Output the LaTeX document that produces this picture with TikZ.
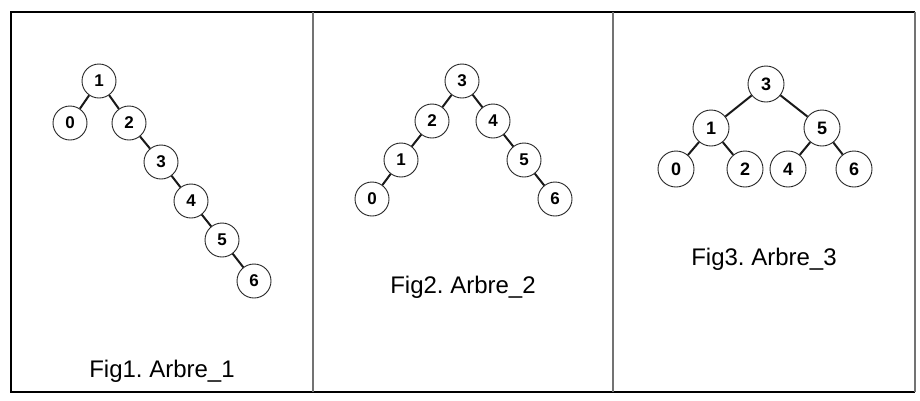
\documentclass[tikz,border=0pt]{standalone}
\usepackage{fontspec}
\setmainfont{Liberation Sans}
\frenchspacing
\begin{document}
\begin{tikzpicture}[x=1pt,y=-1pt,
  tnode/.style={circle,draw=black!85,fill=white,line width=0.9pt,minimum size=34pt,inner sep=0pt,font=\fontsize{17}{17}\selectfont\bfseries},
  bignode/.style={tnode,minimum size=36pt,font=\fontsize{18}{18}\selectfont\bfseries},
  tedge/.style={line width=2pt,black!90},
  caption/.style={anchor=base,inner sep=0pt,font=\fontsize{24}{24}\selectfont},
  frameline/.style={line width=1.1pt,black},
  divline/.style={line width=1.4pt,black!55}]
\useasboundingbox (0,0) rectangle (920,400);
\fill[white] (0,0) rectangle (920,400);
% frame
\draw[frameline] (915,12) -- (11,12) -- (11,392) -- (915,392);
\draw[divline] (915,12) -- (915,392);
\draw[divline] (313,12) -- (313,392);
\draw[divline] (613,12) -- (613,392);
% panel 1
\node[tnode] (a1) at (99,81) {1};
\node[tnode] (a0) at (70,123) {0};
\node[tnode] (a2) at (129,123) {2};
\node[tnode] (a3) at (161,162) {3};
\node[tnode] (a4) at (191,201) {4};
\node[tnode] (a5) at (222,240) {5};
\node[tnode] (a6) at (254,281) {6};
\draw[tedge] (a1) -- (a0);
\draw[tedge] (a1) -- (a2);
\draw[tedge] (a2) -- (a3);
\draw[tedge] (a3) -- (a4);
\draw[tedge] (a4) -- (a5);
\draw[tedge] (a5) -- (a6);
\node[caption] (capa) at (162,377) {Fig1. Arbre\_1};
% panel 2
\node[tnode] (b3) at (462,81) {3};
\node[tnode] (b2) at (432,121) {2};
\node[tnode] (b4) at (493,121) {4};
\node[tnode] (b1) at (401,160) {1};
\node[tnode] (b5) at (524,160) {5};
\node[tnode] (b0) at (372,199) {0};
\node[tnode] (b6) at (555,199) {6};
\draw[tedge] (b3) -- (b2);
\draw[tedge] (b3) -- (b4);
\draw[tedge] (b2) -- (b1);
\draw[tedge] (b1) -- (b0);
\draw[tedge] (b4) -- (b5);
\draw[tedge] (b5) -- (b6);
\node[caption] (capb) at (463,293) {Fig2. Arbre\_2};
% panel 3
\node[bignode] (c3) at (766,84) {3};
\node[bignode] (c1) at (711,128) {1};
\node[bignode] (c5) at (822,128) {5};
\node[bignode] (c0) at (676,169) {0};
\node[bignode] (c2) at (745,169) {2};
\node[bignode] (c4) at (788,169) {4};
\node[bignode] (c6) at (854,169) {6};
\draw[tedge] (c3) -- (c1);
\draw[tedge] (c3) -- (c5);
\draw[tedge] (c1) -- (c0);
\draw[tedge] (c1) -- (c2);
\draw[tedge] (c5) -- (c4);
\draw[tedge] (c5) -- (c6);
\node[caption] (capc) at (764,265) {Fig3. Arbre\_3};
\end{tikzpicture}
\end{document}
